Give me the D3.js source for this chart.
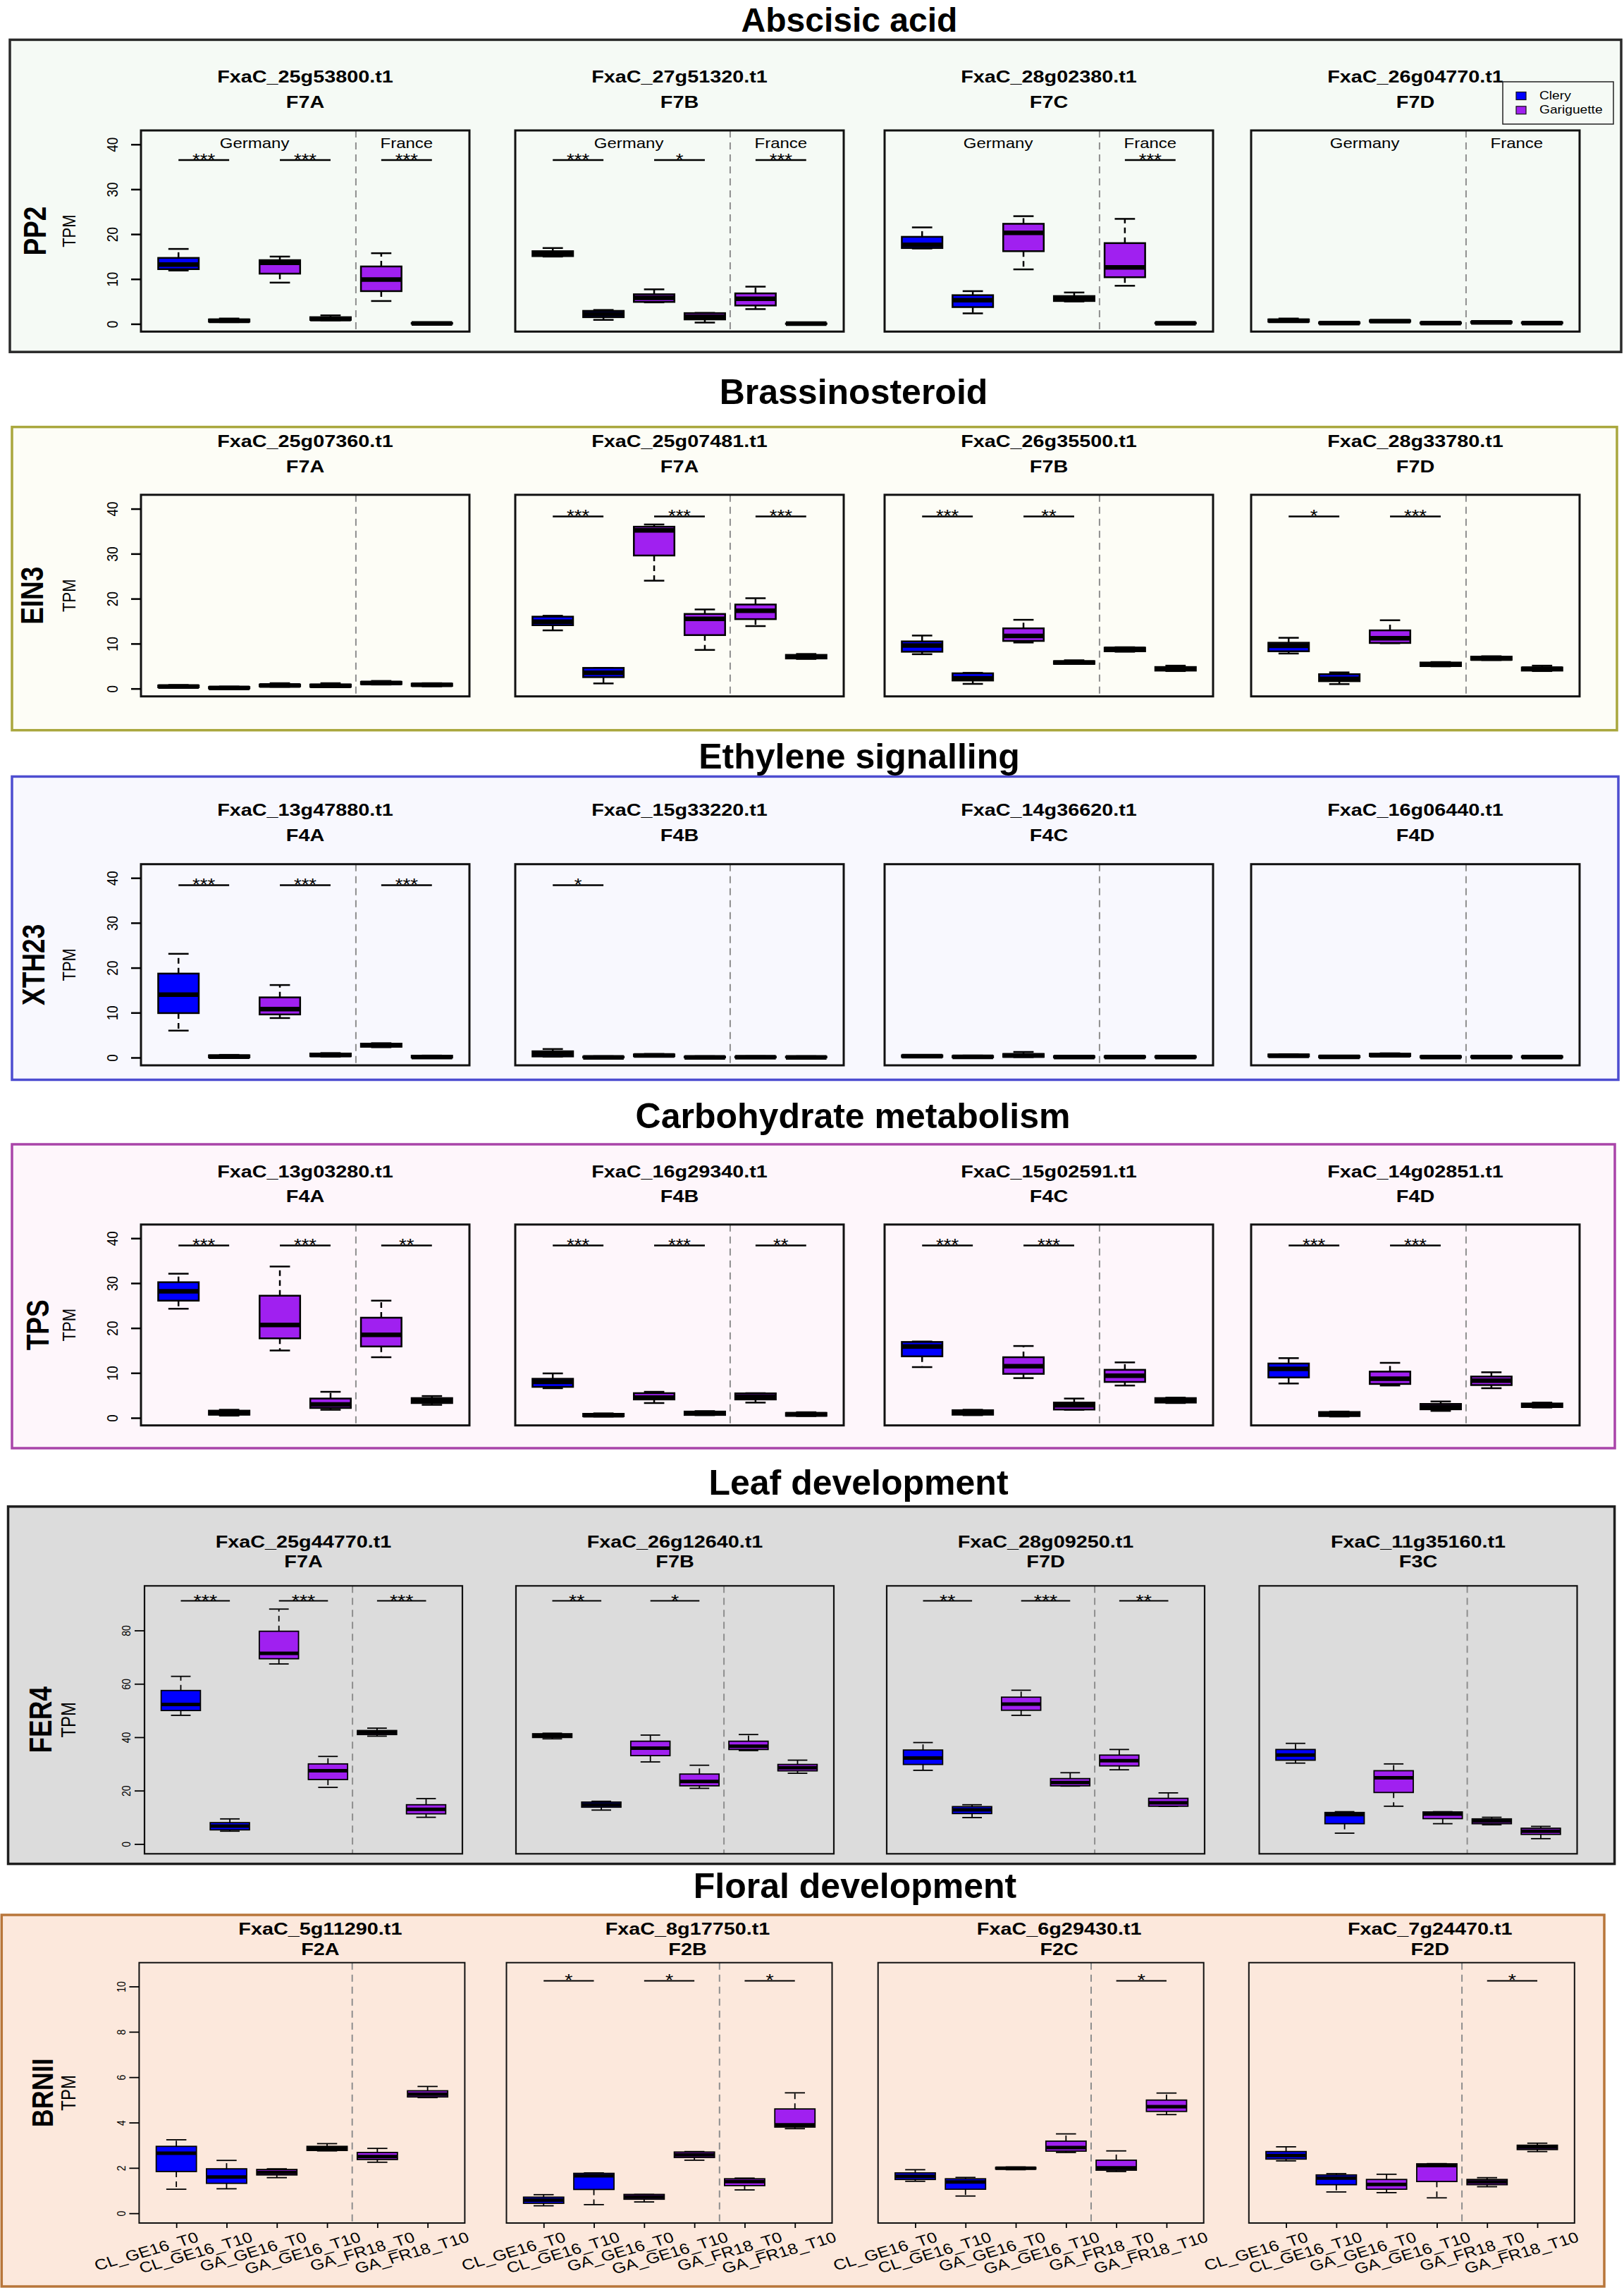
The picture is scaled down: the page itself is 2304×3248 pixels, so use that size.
<!DOCTYPE html>
<html>
<head>
<meta charset="utf-8">
<script src="https://cdn.jsdelivr.net/npm/d3@7"></script>
<style>
  body { margin: 0; background: #fff; }
  svg text { font-family: "Liberation Sans", Arial, Helvetica, sans-serif; }
</style>
</head>
<body>
<svg id="fig" width="2304" height="3248"></svg>
<script>
// ---- data ----
const samples = ["CL_GE16_T0", "CL_GE16_T10", "GA_GE16_T0", "GA_GE16_T10", "GA_FR18_T0", "GA_FR18_T10"];
const cultivars = ["Clery", "Gariguette"];
const sampleCultivar = ["Clery", "Clery", "Gariguette", "Gariguette", "Gariguette", "Gariguette"];
const sampleRegion = ["Germany", "Germany", "Germany", "Germany", "France", "France"];

const sectionTitles = ["Abscisic acid", "Brassinosteroid", "Ethylene signalling",
                       "Carbohydrate metabolism", "Leaf development", "Floral development"];
const geneFamilies = ["PP2", "EIN3", "XTH23", "TPS", "FER4", "BRNII"];

const abaGenes = ["FxaC_25g53800.t1", "FxaC_27g51320.t1", "FxaC_28g02380.t1", "FxaC_26g04770.t1"];
const abaFam = ["F7A", "F7B", "F7C", "F7D"];
const brGenes = ["FxaC_25g07360.t1", "FxaC_25g07481.t1", "FxaC_26g35500.t1", "FxaC_28g33780.t1"];
const brFam = ["F7A", "F7A", "F7B", "F7D"];
const ethGenes = ["FxaC_13g47880.t1", "FxaC_15g33220.t1", "FxaC_14g36620.t1", "FxaC_16g06440.t1"];
const ethFam = ["F4A", "F4B", "F4C", "F4D"];
const carbGenes = ["FxaC_13g03280.t1", "FxaC_16g29340.t1", "FxaC_15g02591.t1", "FxaC_14g02851.t1"];
const carbFam = ["F4A", "F4B", "F4C", "F4D"];
const leafGenes = ["FxaC_25g44770.t1", "FxaC_26g12640.t1", "FxaC_28g09250.t1", "FxaC_11g35160.t1"];
const leafFam = ["F7A", "F7B", "F7D", "F3C"];
const floralGenes = ["FxaC_5g11290.t1", "FxaC_8g17750.t1", "FxaC_6g29430.t1", "FxaC_7g24470.t1"];
const floralFam = ["F2A", "F2B", "F2C", "F2D"];

const ticks40 = [0, 10, 20, 30, 40];
const ticksLeaf = [0, 20, 40, 60, 80];
const ticksFloral = [0, 2, 4, 6, 8, 10];

// box stats per panel, per sample: [min, q1, median, q3, max] (TPM)
const abaStats = [
  [[11.9,12.2,13.2,14.7,16.7],[0.4,0.5,0.7,1.0,1.2],[9.2,11.2,13.6,14.2,15.0],[0.8,0.9,1.1,1.5,1.9],[5.1,7.3,9.9,12.8,15.75],[0,0.05,0.1,0.2,0.3]],
  [[15.0,15.1,15.6,16.2,16.9],[0.9,1.5,2.2,2.9,3.1],[4.8,4.9,5.8,6.6,7.7],[0.3,1.0,1.6,2.4,2.45],[3.3,4.1,5.6,6.8,8.3],[0,0,0.05,0.1,0.15]],
  [[16.8,16.9,17.6,19.4,21.5],[2.35,3.75,5.3,6.4,7.3],[12.15,16.2,20.3,22.3,24.0],[5.0,5.1,5.6,6.2,7.0],[8.5,10.4,12.6,18.0,23.4],[0.1,0.1,0.15,0.25,0.3]],
  [[0.5,0.5,0.7,1.0,1.2],[0.05,0.1,0.2,0.35,0.4],[0.5,0.5,0.6,0.8,0.8],[0.05,0.1,0.2,0.3,0.35],[0.2,0.25,0.35,0.5,0.55],[0.1,0.15,0.2,0.35,0.4]]
];
const brStats = [
  [[0.2,0.3,0.45,0.7,0.8],[0,0.05,0.15,0.35,0.45],[0.4,0.5,0.7,0.9,1.2],[0.3,0.4,0.6,0.9,1.2],[0.9,1.0,1.25,1.5,1.7],[0.5,0.6,0.85,1.1,1.2]],
  [[12.95,14.1,14.9,16.0,16.2],[1.15,2.55,3.5,4.6,4.6],[24.0,29.6,35.2,36.0,36.5],[8.6,11.9,15.5,16.6,17.6],[13.9,15.45,17.3,18.7,20.1],[6.6,6.7,7.1,7.5,7.7]],
  [[7.65,8.2,9.6,10.5,11.8],[1.05,1.8,2.3,3.4,3.5],[10.25,10.6,11.7,13.4,15.3],[5.5,5.5,5.8,6.1,6.3],[8.2,8.3,8.8,9.1,9.2],[3.9,4.0,4.4,4.8,5.1]],
  [[7.8,8.3,9.5,10.2,11.3],[1.0,1.65,2.2,3.2,3.6],[10.1,10.15,11.2,12.95,15.2],[4.95,5.0,5.4,5.8,5.9],[6.35,6.4,6.7,7.1,7.2],[3.9,4.0,4.4,4.7,5.1]]
];
const ethStats = [
  [[6.0,9.9,14.0,18.7,23.1],[0,0.05,0.2,0.5,0.6],[8.8,9.6,10.8,13.4,16.15],[0.2,0.3,0.6,0.9,1.0],[2.3,2.4,2.8,3.1,3.2],[0,0,0.1,0.4,0.45]],
  [[0.2,0.25,0.9,1.4,1.9],[0,0.02,0.05,0.2,0.3],[0.2,0.3,0.45,0.7,0.8],[0,0.02,0.05,0.2,0.3],[0,0.02,0.06,0.2,0.3],[0,0.02,0.05,0.2,0.3]],
  [[0.1,0.15,0.3,0.5,0.55],[0,0.05,0.15,0.35,0.45],[0.1,0.15,0.45,0.8,1.25],[0,0.02,0.1,0.3,0.35],[0,0.03,0.1,0.3,0.35],[0,0.02,0.1,0.28,0.35]],
  [[0.2,0.25,0.4,0.7,0.75],[0,0.05,0.15,0.35,0.4],[0.3,0.35,0.5,0.85,0.95],[0,0.02,0.1,0.3,0.35],[0,0.03,0.1,0.3,0.35],[0,0.02,0.1,0.28,0.35]]
];
const carbStats = [
  [[24.3,26.1,28.2,30.2,32.1],[0.5,0.7,1.1,1.6,1.8],[15.0,17.7,20.7,27.2,33.7],[1.8,2.2,3.0,4.3,5.8],[13.5,15.9,18.5,22.3,26.1],[2.9,3.3,3.8,4.4,4.85]],
  [[6.6,6.9,8.0,8.7,9.9],[0.3,0.35,0.6,0.9,1.0],[3.3,4.1,4.5,5.5,5.8],[0.6,0.65,1.0,1.4,1.5],[3.4,4.1,4.7,5.45,5.5],[0.4,0.45,0.8,1.1,1.25]],
  [[11.3,13.7,15.9,16.9,17.0],[0.6,0.7,1.2,1.7,1.8],[8.85,9.8,11.5,13.5,16.0],[1.8,1.85,2.8,3.4,4.3],[7.2,8.0,9.4,10.7,12.35],[3.3,3.4,3.9,4.4,4.5]],
  [[7.65,9.0,10.9,12.1,13.3],[0.3,0.4,0.8,1.3,1.4],[7.2,7.55,8.7,10.3,12.25],[1.55,1.9,2.45,3.1,3.65],[6.6,7.3,8.3,9.2,10.15],[2.3,2.4,2.8,3.2,3.4]]
];
const leafStats = [
  [[48.2,50.0,52.3,57.5,62.8],[4.8,5.3,6.7,8.0,9.4],[67.45,69.4,71.4,79.7,88.0],[21.2,24.15,27.45,30.0,32.8],[40.4,41.0,41.8,42.5,43.4],[10.0,11.3,13.0,14.7,17.0]],
  [[39.4,39.9,40.6,41.3,41.5],[12.7,13.8,14.7,15.7,16.0],[30.75,33.1,35.9,38.5,40.8],[20.85,21.8,23.4,26.2,29.5],[35.0,35.4,36.6,38.5,41.0],[26.5,27.4,28.6,29.8,31.4]],
  [[27.6,29.8,32.2,35.2,38.0],[9.9,11.4,12.8,14.0,14.7],[48.2,50.1,52.4,55.0,57.6],[21.7,21.8,23.0,24.5,26.7],[27.8,29.25,31.2,33.3,35.4],[14.1,14.15,15.4,17.1,19.15]],
  [[30.3,31.4,33.3,35.4,37.7],[4.05,7.6,11.0,11.8,12.1],[14.15,19.3,24.8,27.45,30.0],[7.6,9.5,11.2,12.0,12.1],[7.2,7.6,8.6,9.4,10.0],[2.0,3.6,4.8,5.9,6.6]]
];
const floralStats = [
  [[1.06,1.84,2.65,2.95,3.24],[1.08,1.32,1.6,1.96,2.33],[1.57,1.69,1.8,1.93,1.96],[2.75,2.77,2.85,2.95,3.07],[2.25,2.37,2.5,2.68,2.86],[5.1,5.13,5.25,5.4,5.59]],
  [[0.33,0.44,0.58,0.71,0.82],[0.38,1.05,1.65,1.76,1.78],[0.5,0.62,0.72,0.83,0.83],[2.34,2.46,2.58,2.7,2.72],[1.03,1.22,1.4,1.52,1.55],[3.73,3.8,3.9,4.6,5.31]],
  [[1.41,1.49,1.63,1.78,1.92],[0.76,1.06,1.38,1.52,1.58],[1.92,1.95,1.99,2.02,2.04],[2.68,2.74,2.9,3.18,3.5],[1.84,1.9,2.0,2.34,2.75],[4.35,4.49,4.7,4.99,5.3]],
  [[2.31,2.39,2.55,2.72,2.93],[0.94,1.26,1.55,1.69,1.75],[0.91,1.06,1.27,1.49,1.72],[0.68,1.4,2.1,2.18,2.19],[1.17,1.26,1.38,1.49,1.57],[2.72,2.81,2.92,3.0,3.09]]
];

// significance for pairs (T0 vs T10): CL_GE16, GA_GE16, GA_FR18
const abaSig = [["***","***","***"], ["***","*","***"], ["","","***"], ["","",""]];
const brSig = [["","",""], ["***","***","***"], ["***","**",""], ["*","***",""]];
const ethSig = [["***","***","***"], ["*","",""], ["","",""], ["","",""]];
const carbSig = [["***","***","**"], ["***","***","**"], ["***","***",""], ["***","***",""]];
const leafSig = [["***","***","***"], ["**","*",""], ["**","***","**"], ["","",""]];
const floralSig = [["","",""], ["*","*","*"], ["","","*"], ["","","*"]];

const sections = [
  {genes: abaGenes, fam: abaFam, stats: abaStats, sig: abaSig, ticks: ticks40},
  {genes: brGenes, fam: brFam, stats: brStats, sig: brSig, ticks: ticks40},
  {genes: ethGenes, fam: ethFam, stats: ethStats, sig: ethSig, ticks: ticks40},
  {genes: carbGenes, fam: carbFam, stats: carbStats, sig: carbSig, ticks: ticks40},
  {genes: leafGenes, fam: leafFam, stats: leafStats, sig: leafSig, ticks: ticksLeaf},
  {genes: floralGenes, fam: floralFam, stats: floralStats, sig: floralSig, ticks: ticksFloral}
].map((s, i) => Object.assign(s, {title: sectionTitles[i], family: geneFamilies[i]}));

// ---- styles and layout ----
const fillOf = {Clery: "#0000ff", Gariguette: "#a020f0"};
const SX = 1.2; // the plot texts are a bit stretched sideways in the figure

const base = {px: [200, 731, 1255, 1775], pw: 466, tickX: 167, tpmX: 107, tickFs: 19, labFs: 37, tpmFs: 22,
              geneFs: 24, starFs: 23, frame: 3, boxW: 2.5, medW: 6.5, sigW: 2.5, shift: 0, titleFs: 50};
const layout = [
  {box: [14, 56.4, 2300, 499.2], bg: "#f5faf5", edge: "#2a2a2a", titleX: 1205, titleY: 45, titleFs: 48, geneY: 117, famY: 153,
   top: 185, bottom: 470.3, dom: [-1.71, 43.1], sigY: 36.5, labX: 65, regionY: 210, legend: true},
  {box: [17, 605.6, 2294, 1035.7], bg: "#fdfdf6", edge: "#a9a73d", titleX: 1211, titleY: 573, geneY: 634, famY: 670,
   top: 701.8, bottom: 987.7, dom: [-1.73, 43.1], sigY: 38.3, labX: 61},
  {box: [17, 1101.4, 2296, 1531.5], bg: "#f8f8fe", edge: "#4d4dd0", titleX: 1219, titleY: 1090, geneY: 1157, famY: 1193,
   top: 1225.7, bottom: 1511, dom: [-1.73, 43.06], sigY: 38.4, labX: 63},
  {box: [17, 1623, 2291, 2054], bg: "#fef6fb", edge: "#a944a9", titleX: 1210, titleY: 1600, geneY: 1669.5, famY: 1705,
   top: 1736.8, bottom: 2021.7, dom: [-1.68, 43.05], sigY: 38.4, labX: 69},
  {box: [11.5, 2136.8, 2290.6, 2643.6], bg: "#dcdcdc", edge: "#1e1e1e", titleX: 1218, titleY: 2120, geneY: 2194.6, famY: 2223,
   top: 2249.3, bottom: 2629.3, dom: [-3.67, 96.7], sigY: 91.1, labX: 73, px: [205, 732, 1258, 1786.5], pw: 451,
   tickX: 185, tickFs: 14, tpmFs: 24, starFs: 24, frame: 2.2, boxW: 1.8, medW: 5, sigW: 2},
  {box: [2.3, 2716, 2276, 3243], bg: "#fce8dc", edge: "#b8763a", titleX: 1213, titleY: 2692, geneY: 2744, famY: 2772.5,
   top: 2783.7, bottom: 3153, dom: [-0.43, 11.05], sigY: 10.25, labX: 75, px: [197.4, 718.5, 1245.7, 1771.8], pw: 462,
   tickX: 177.5, tickFs: 14, labFs: 36, tpmFs: 24, starFs: 24, frame: 2, boxW: 1.8, medW: 5, sigW: 2, shift: 26, xAxis: true}
].map(l => Object.assign({}, base, l));

const svg = d3.select("#fig");

function stext(sel, x, y, str, size, opt = {}) {
  return sel.append("text")
    .attr("transform", `translate(${x},${y}) scale(${opt.sx ?? SX},1)` + (opt.rot ? ` rotate(${opt.rot})` : ""))
    .attr("text-anchor", opt.anchor || "middle")
    .attr("font-size", size)
    .attr("font-weight", opt.bold ? "bold" : "normal")
    .attr("fill", "#000")
    .text(str);
}

sections.forEach((sec, si) => {
  const L = layout[si];
  const g = svg.append("g");

  g.append("rect")
    .attr("x", L.box[0]).attr("y", L.box[1])
    .attr("width", L.box[2] - L.box[0]).attr("height", L.box[3] - L.box[1])
    .attr("fill", L.bg).attr("stroke", L.edge).attr("stroke-width", 3.5);

  stext(g, L.titleX, L.titleY, sec.title, L.titleFs, {bold: true, sx: 1});

  const y = d3.scaleLinear().domain(L.dom).range([L.bottom, L.top]);
  const mid = (L.top + L.bottom) / 2;
  stext(g, L.labX, mid, sec.family, L.labFs, {bold: true, rot: -90});
  stext(g, L.tpmX, mid, "TPM", L.tpmFs, {rot: -90});

  sec.genes.forEach((gene, p) => {
    const x0 = L.px[p];
    const x = d3.scaleLinear().domain([0.26, 6.74]).range([x0, x0 + L.pw]);
    const pg = g.append("g");
    const cx = x0 + L.pw / 2 + L.shift;

    stext(pg, cx, L.geneY, gene, L.geneFs, {bold: true});
    stext(pg, cx, L.famY, sec.fam[p], L.geneFs, {bold: true});

    // Germany | France split
    pg.append("line")
      .attr("x1", x(4.5)).attr("x2", x(4.5)).attr("y1", L.top).attr("y2", L.bottom)
      .attr("stroke", "#8e8e8e").attr("stroke-width", 2).attr("stroke-dasharray", "10,7");

    const boxes = pg.selectAll("g.bx")
      .data(sec.stats[p].map((s, i) => ({s, i, c: fillOf[sampleCultivar[i]]})))
      .join("g").attr("class", "bx");

    boxes.selectAll("line.wh")
      .data(d => [[d.i, d.s[3], d.s[4]], [d.i, d.s[1], d.s[0]]])
      .join("line").attr("class", "wh")
      .attr("x1", d => x(d[0] + 1)).attr("x2", d => x(d[0] + 1))
      .attr("y1", d => y(d[1])).attr("y2", d => y(d[2]))
      .attr("stroke", "#000").attr("stroke-width", L.boxW).attr("stroke-dasharray", "8,6");

    boxes.selectAll("line.st")
      .data(d => [[d.i, d.s[4]], [d.i, d.s[0]]])
      .join("line").attr("class", "st")
      .attr("x1", d => x(d[0] + 0.8)).attr("x2", d => x(d[0] + 1.2))
      .attr("y1", d => y(d[1])).attr("y2", d => y(d[1]))
      .attr("stroke", "#000").attr("stroke-width", L.boxW);

    boxes.append("rect")
      .attr("x", d => x(d.i + 0.6)).attr("width", d => x(d.i + 1.4) - x(d.i + 0.6))
      .attr("y", d => y(d.s[3])).attr("height", d => y(d.s[1]) - y(d.s[3]))
      .attr("fill", d => d.c).attr("stroke", "#000").attr("stroke-width", L.boxW);

    boxes.append("line")
      .attr("x1", d => x(d.i + 0.6)).attr("x2", d => x(d.i + 1.4))
      .attr("y1", d => y(d.s[2])).attr("y2", d => y(d.s[2]))
      .attr("stroke", "#000").attr("stroke-width", L.medW);

    pg.append("rect")
      .attr("x", x0).attr("y", L.top).attr("width", L.pw).attr("height", L.bottom - L.top)
      .attr("fill", "none").attr("stroke", "#111").attr("stroke-width", L.frame);

    // significance bars
    sec.sig[p].forEach((str, k) => {
      if (!str) return;
      const a = x(2 * k + 1), b = x(2 * k + 2), yy = y(L.sigY);
      pg.append("line").attr("x1", a).attr("x2", b).attr("y1", yy).attr("y2", yy)
        .attr("stroke", "#000").attr("stroke-width", L.sigW);
      stext(pg, (a + b) / 2, yy + 8, str, L.starFs);
    });

    if (L.regionY) {
      ["Germany", "France"].forEach(r => {
        const idx = samples.map((s, i) => i + 1).filter(i => sampleRegion[i - 1] === r);
        stext(pg, x(d3.mean(idx)), L.regionY, r, 20);
      });
    }

    if (p === 0) {
      const ag = pg.append("g").attr("transform", `translate(${x0},0)`)
        .call(d3.axisLeft(y).tickValues(sec.ticks).tickSize(14).tickSizeOuter(0));
      ag.select(".domain").remove();
      ag.attr("font-family", null).attr("font-size", null);
      ag.selectAll(".tick line").attr("stroke", "#000").attr("stroke-width", L.boxW);
      ag.selectAll(".tick text")
        .attr("x", null).attr("dy", null)
        .attr("text-anchor", "middle").attr("fill", "#000")
        .attr("font-size", L.tickFs)
        .attr("transform", `translate(${L.tickX - x0},0) scale(${SX},1) rotate(-90)`);
    }

    if (L.xAxis) {
      const xg = pg.append("g").attr("transform", `translate(0,${L.bottom})`)
        .call(d3.axisBottom(x).tickValues(samples.map((s, i) => i + 1)).tickSize(7).tickSizeOuter(0).tickFormat(""));
      xg.select(".domain").remove();
      xg.selectAll(".tick line").attr("stroke", "#000").attr("stroke-width", 1.8);
      samples.forEach((s, i) => {
        stext(pg, x(i + 1) + 33 + 5.5 * i, L.bottom + 26, s, 21, {anchor: "end", rot: -19});
      });
    }
  });

  if (L.legend) {
    const lg = g.append("g");
    lg.append("rect").attr("x", 2132).attr("y", 116).attr("width", 157).attr("height", 60)
      .attr("fill", L.bg).attr("stroke", "#222").attr("stroke-width", 1.5);
    cultivars.forEach((c, k) => {
      lg.append("rect").attr("x", 2151).attr("y", 130.5 + 20.3 * k).attr("width", 14).attr("height", 11)
        .attr("fill", fillOf[c]).attr("stroke", "#111").attr("stroke-width", 1.2);
      stext(lg, 2184, 141 + 20.3 * k, c, 16, {anchor: "start"});
    });
  }
});
</script>
</body>
</html>
